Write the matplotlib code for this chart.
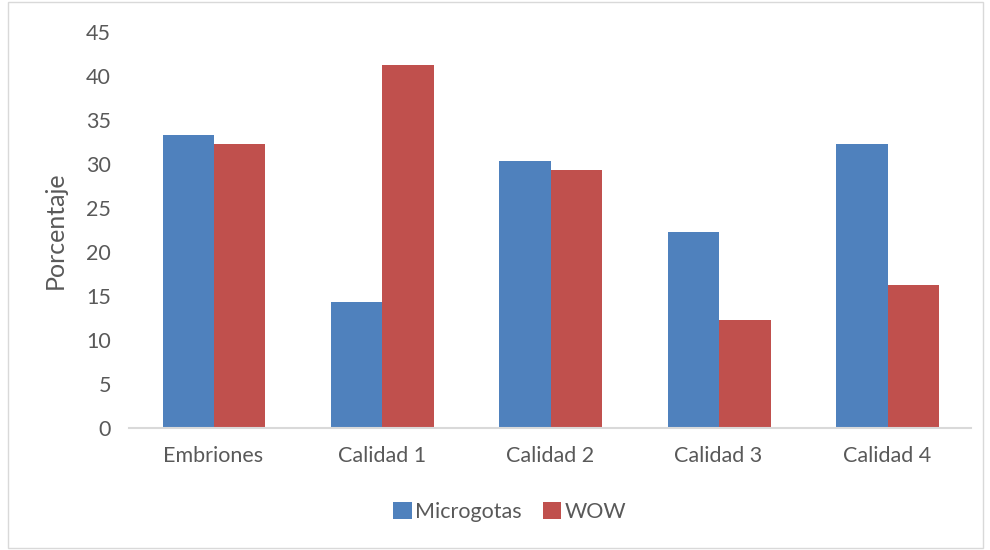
import matplotlib
matplotlib.use("Agg")
import matplotlib.pyplot as plt
import numpy as np
from matplotlib.patches import Rectangle

categories = ["Embriones", "Calidad 1", "Calidad 2", "Calidad 3", "Calidad 4"]
microgotas = [33.3, 14.3, 30.3, 22.3, 32.3]
wow = [32.3, 41.3, 29.3, 12.3, 16.3]
series_names = ["Microgotas", "WOW"]
y_ticks = [0, 5, 10, 15, 20, 25, 30, 35, 40, 45]

BLUE = "#4F81BD"
RED = "#C0504D"
TEXT = "#595959"
GRID = "#D9D9D9"

plt.rcParams["font.family"] = ["Lato", "DejaVu Sans"]

fig = plt.figure(figsize=(9.9, 5.5), dpi=100)
fig.patch.set_facecolor("white")

# outer chart border
fig.add_artist(Rectangle((8 / 990, 2 / 550), 975 / 990, 546 / 550,
                         transform=fig.transFigure, fill=False,
                         edgecolor=GRID, linewidth=1.0))

ax = fig.add_axes([129 / 990, 1 - 428 / 550, 842 / 990, (428 - 32) / 550])
x = np.arange(len(categories))
w = 0.305
ax.bar(x - w / 2 + 0.005, microgotas, width=w, color=BLUE, label=series_names[0], zorder=2)
ax.bar(x + w / 2 + 0.005, wow, width=w, color=RED, label=series_names[1], zorder=2)

ax.set_xlim(-0.5, len(categories) - 0.5)
ax.set_ylim(0, 45)
ax.set_yticks(y_ticks)
ax.set_xticks(x)
ax.set_xticklabels(categories)
ax.tick_params(axis="both", length=0, labelsize=15.5, colors=TEXT)
ax.tick_params(axis="y", pad=13)
ax.tick_params(axis="x", pad=13)
for s in ["top", "right", "left"]:
    ax.spines[s].set_visible(False)
ax.spines["bottom"].set_color(GRID)
ax.spines["bottom"].set_linewidth(1.5)
ax.spines["bottom"].set_zorder(3)

ax.set_ylabel("Porcentaje", fontsize=18, color=TEXT, labelpad=14)

leg = fig.legend(loc="center", bbox_to_anchor=(0.515, 1 - 512 / 550), ncol=2,
                 frameon=False, fontsize=15.5, handlelength=0.85, handleheight=0.85,
                 handletextpad=0.15, columnspacing=1.0)
for t in leg.get_texts():
    t.set_color(TEXT)

fig.savefig("out.png", dpi=100, facecolor="white")
